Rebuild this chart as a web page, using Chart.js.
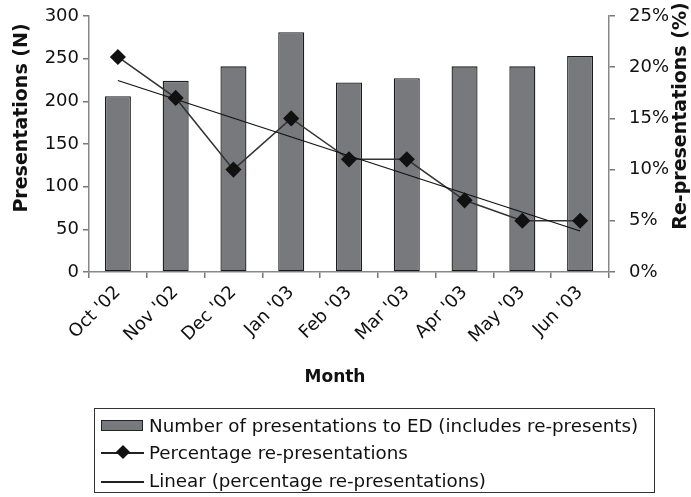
<!DOCTYPE html>
<html>
<head>
<meta charset="utf-8">
<script src="https://cdn.jsdelivr.net/npm/chart.js@4/dist/chart.umd.min.js"></script>
<style>
  html, body { margin: 0; padding: 0; background: #fff; }
  #wrap { position: relative; width: 691px; height: 497px; }
  #c { position: absolute; left: 0; top: 0; }
  #legend {
    position: absolute; left: 94px; top: 408px; width: 561px; height: 85px;
    border: 1px solid #333; box-sizing: border-box;
    font-family: "DejaVu Sans", sans-serif; font-size: 18.3px; color: #111;
  }
  .row { position: absolute; left: 0; height: 26px; line-height: 26px; white-space: nowrap; }
  .row span.t { position: absolute; left: 54px; top: 0; }
  .sw { position: absolute; }
</style>
</head>
<body>
<div id="wrap">
  <canvas id="c" width="691" height="497"></canvas>
  <div id="legend"></div>
</div>
<script>
// ---- data ----
const months = ["Oct '02", "Nov '02", "Dec '02", "Jan '03", "Feb '03", "Mar '03", "Apr '03", "May '03", "Jun '03"];
const presentations = [206, 224, 241, 281, 222, 227, 241, 241, 253];
const rePresentationPct = [21, 17, 10, 15, 11, 11, 7, 5, 5];
// linear trend line end points
const trendPct = [18.7, null, null, null, null, null, null, null, 4.0];
const leftTicks = [0, 50, 100, 150, 200, 250, 300];
const rightTicks = [0, 5, 10, 15, 20, 25];
const seriesNames = [
  "Number of presentations to ED (includes re-presents)",
  "Percentage re-presentations",
  "Linear (percentage re-presentations)"
];
const axisTitles = { left: "Presentations (N)", right: "Re-presentations (%)", x: "Month" };

const FONT = "DejaVu Sans";

const titlePlugin = {
  id: 'titles',
  afterDraw(chart) {
    const ctx = chart.ctx;
    ctx.save();
    ctx.fillStyle = '#111';
    ctx.textAlign = 'center';
    ctx.textBaseline = 'middle';
    ctx.font = 'bold 19px "' + FONT + '"';
    ctx.save();
    ctx.translate(22, 118);
    ctx.rotate(-Math.PI / 2);
    ctx.fillText(axisTitles.left, 0, 0);
    ctx.restore();
    ctx.save();
    ctx.translate(681, 116);
    ctx.rotate(-Math.PI / 2);
    ctx.fillText(axisTitles.right, 0, 0);
    ctx.restore();
    ctx.font = 'bold 17px "' + FONT + '"';
    ctx.fillText(axisTitles.x, 335, 378);
    ctx.restore();
  }
};

new Chart(document.getElementById('c'), {
  data: {
    labels: months,
    datasets: [
      {
        type: 'line', label: seriesNames[2], data: trendPct, yAxisID: 'yR',
        borderColor: '#111', borderWidth: 1.2, pointRadius: 0, spanGaps: true, order: 0
      },
      {
        type: 'line', label: seriesNames[1], data: rePresentationPct, yAxisID: 'yR',
        borderColor: '#333', borderWidth: 1.5, pointStyle: 'rectRot', pointRadius: 7,
        pointBackgroundColor: '#111', pointBorderColor: '#111', order: 1
      },
      {
        type: 'bar', label: seriesNames[0], data: presentations, yAxisID: 'yL',
        backgroundColor: '#78797d', borderColor: '#1a1a1a', borderWidth: 1.3, borderSkipped: false,
        barPercentage: 0.45, categoryPercentage: 1.0, order: 2
      }
    ]
  },
  options: {
    responsive: false,
    animation: false,
    layout: { padding: { top: 16, left: 0, right: 0, bottom: 0 } },
    plugins: { legend: { display: false }, tooltip: { enabled: false } },
    scales: {
      x: {
        type: 'category',
        offset: true,
        grid: { offset: true, drawOnChartArea: false, drawTicks: true, tickLength: 6, color: '#777', lineWidth: 1.5 },
        border: { display: true, color: '#888', width: 1.5 },
        ticks: {
          minRotation: 45, maxRotation: 45, padding: 4, color: '#111',
          font: { family: FONT, size: 18 }
        },
        afterFit(s) { s.height = 225; }
      },
      yL: {
        position: 'left', min: 0, max: 300,
        afterBuildTicks(s) { s.ticks = leftTicks.map(v => ({ value: v })); },
        grid: { drawOnChartArea: false, tickLength: 6, color: '#777', lineWidth: 1.5 },
        border: { display: true, color: '#888', width: 1.5 },
        ticks: { padding: 4, color: '#111', font: { family: FONT, size: 18 } },
        afterFit(s) { s.width = 89; s.paddingTop = 10; s.paddingBottom = 10; }
      },
      yR: {
        position: 'right', min: 0, max: 25,
        afterBuildTicks(s) { s.ticks = rightTicks.map(v => ({ value: v })); },
        grid: { drawOnChartArea: false, tickLength: 6, color: '#777', lineWidth: 1.5 },
        border: { display: true, color: '#888', width: 1.5 },
        ticks: { padding: 14, color: '#111', font: { family: FONT, size: 18 }, callback: v => v + '%' },
        afterFit(s) { s.width = 82; s.paddingTop = 10; s.paddingBottom = 10; }
      }
    }
  },
  plugins: [titlePlugin]
});

// ---- HTML legend ----
const legend = document.getElementById('legend');
const rowsTop = [4, 31, 59];
seriesNames.forEach((name, i) => {
  const row = document.createElement('div');
  row.className = 'row';
  row.style.top = rowsTop[i] + 'px';
  row.style.width = '100%';
  let sw = '';
  if (i === 0) {
    sw = '<div class="sw" style="left:6px;top:7px;width:42px;height:11px;background:#78797d;border:1.5px solid #222;box-sizing:border-box"></div>';
  } else if (i === 1) {
    sw = '<div class="sw" style="left:6px;top:12px;width:43px;height:1.5px;background:#222"></div>' +
         '<div class="sw" style="left:23px;top:7px;width:10px;height:10px;background:#111;transform:rotate(45deg)"></div>';
  } else {
    sw = '<div class="sw" style="left:6px;top:13px;width:43px;height:1.5px;background:#222"></div>';
  }
  row.innerHTML = sw + '<span class="t">' + name + '</span>';
  legend.appendChild(row);
});
</script>
</body>
</html>
